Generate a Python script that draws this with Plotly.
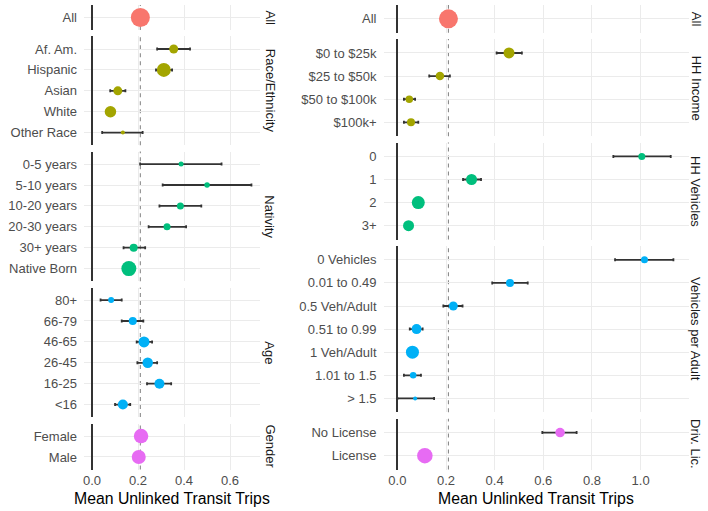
import plotly.graph_objects as go

W, H = 708, 511

# ---------------- data ----------------
overall_mean = 0.21

# Left column
all_labels = ["All"]
all_mean = [0.21]
all_lo = [0.203]
all_hi = [0.217]
all_size = [19]

race_labels = ["Af. Am.", "Hispanic", "Asian", "White", "Other Race"]
race_mean = [0.355, 0.312, 0.112, 0.080, 0.134]
race_lo = [0.283, 0.278, 0.079, 0.068, 0.044]
race_hi = [0.426, 0.348, 0.145, 0.092, 0.220]
race_size = [9, 14, 9, 11.5, 4]

nat_labels = ["0-5 years", "5-10 years", "10-20 years", "20-30 years", "30+ years", "Native Born"]
nat_mean = [0.387, 0.500, 0.384, 0.326, 0.181, 0.160]
nat_lo = [0.209, 0.307, 0.293, 0.246, 0.137, 0.150]
nat_hi = [0.563, 0.693, 0.475, 0.409, 0.231, 0.170]
nat_size = [5, 5.5, 7, 7, 8, 15]

age_labels = ["80+", "66-79", "46-65", "26-45", "16-25", "<16"]
age_mean = [0.083, 0.177, 0.226, 0.242, 0.293, 0.134]
age_lo = [0.037, 0.129, 0.194, 0.197, 0.239, 0.100]
age_hi = [0.129, 0.223, 0.261, 0.283, 0.344, 0.166]
age_size = [6, 8, 11, 10.5, 10, 10]

gender_labels = ["Female", "Male"]
gender_mean = [0.213, 0.203]
gender_lo = [0.205, 0.195]
gender_hi = [0.221, 0.211]
gender_size = [14.5, 14]

# Right column
all2_labels = ["All"]
all2_mean = [0.21]
all2_lo = [0.203]
all2_hi = [0.217]
all2_size = [19]

inc_labels = ["$0 to $25k", "$25 to $50k", "$50 to $100k", "$100k+"]
inc_mean = [0.459, 0.175, 0.049, 0.056]
inc_lo = [0.408, 0.131, 0.027, 0.027]
inc_hi = [0.512, 0.216, 0.073, 0.086]
inc_size = [11, 8.5, 7.5, 8]

veh_labels = ["0", "1", "2", "3+"]
veh_mean = [1.005, 0.305, 0.086, 0.046]
veh_lo = [0.888, 0.270, 0.078, 0.039]
veh_hi = [1.124, 0.344, 0.094, 0.053]
veh_size = [7, 11, 13, 11]

vpa_labels = ["0 Vehicles", "0.01 to 0.49", "0.5 Veh/Adult", "0.51 to 0.99",
              "1 Veh/Adult", "1.01 to 1.5", "> 1.5"]
vpa_mean = [1.016, 0.463, 0.230, 0.079, 0.062, 0.065, 0.073]
vpa_lo = [0.895, 0.390, 0.189, 0.051, 0.055, 0.027, 0.000]
vpa_hi = [1.135, 0.536, 0.268, 0.104, 0.069, 0.097, 0.151]
vpa_size = [7, 8, 9, 10, 13, 6.5, 4]

lic_labels = ["No License", "License"]
lic_mean = [0.669, 0.113]
lic_lo = [0.596, 0.105]
lic_hi = [0.737, 0.121]
lic_size = [9.5, 15.5]

left_ticks = [0, 0.2, 0.4, 0.6]
left_ticktext = ["0.0", "0.2", "0.4", "0.6"]
right_ticks = [0, 0.2, 0.4, 0.6, 0.8, 1.0]
right_ticktext = ["0.0", "0.2", "0.4", "0.6", "0.8", "1.0"]

x_title = "Mean Unlinked Transit Trips"

C1, C2, C3, C4, C5 = "#F8766D", "#A3A500", "#00BF7D", "#00B0F6", "#E76BF3"

left_facets = [
    ("All", all_labels, all_mean, all_lo, all_hi, all_size, C1),
    ("Race/Ethnicity", race_labels, race_mean, race_lo, race_hi, race_size, C2),
    ("Nativity", nat_labels, nat_mean, nat_lo, nat_hi, nat_size, C3),
    ("Age", age_labels, age_mean, age_lo, age_hi, age_size, C4),
    ("Gender", gender_labels, gender_mean, gender_lo, gender_hi, gender_size, C5),
]
right_facets = [
    ("All", all2_labels, all2_mean, all2_lo, all2_hi, all2_size, C1),
    ("HH Income", inc_labels, inc_mean, inc_lo, inc_hi, inc_size, C2),
    ("HH Vehicles", veh_labels, veh_mean, veh_lo, veh_hi, veh_size, C3),
    ("Vehicles per Adult", vpa_labels, vpa_mean, vpa_lo, vpa_hi, vpa_size, C4),
    ("Driv. Lic.", lic_labels, lic_mean, lic_lo, lic_hi, lic_size, C5),
]

# ---------------- layout geometry (pixels) ----------------
TOP, BOTTOM, GAP = 5.0, 469.5, 6.4
FONT = "Arial, Liberation Sans, Helvetica, sans-serif"
GRID = "#EBEBEB"
TICKC = "#4D4D4D"

columns = [
    dict(facets=left_facets, x0=84.0, x1=259.5, rng=[-0.035, 0.728],
         ticks=left_ticks, ticktext=left_ticktext, strip_x=270.0),
    dict(facets=right_facets, x0=383.5, x1=688.5, rng=[-0.057, 1.197],
         ticks=right_ticks, ticktext=right_ticktext, strip_x=696.0),
]

fig = go.Figure()
layout = dict(
    width=W, height=H, margin=dict(l=0, r=0, t=0, b=0, pad=0),
    paper_bgcolor="white", plot_bgcolor="white",
    showlegend=False, template="none",
    font=dict(family=FONT, size=13, color=TICKC),
)
shapes, annotations = [], []

k = 0
for col in columns:
    facets = col["facets"]
    units = sum(len(f[1]) + 0.2 for f in facets)
    u = (BOTTOM - TOP - GAP * (len(facets) - 1)) / units
    y = TOP
    xd = [col["x0"] / W, col["x1"] / W]
    for fi, (name, labels, mean, lo, hi, size, color) in enumerate(facets):
        k += 1
        n = len(labels)
        h = (n + 0.2) * u
        ytop, ybot = y, y + h
        y = ybot + GAP
        yd = [1 - ybot / H, 1 - ytop / H]
        xs = "" if k == 1 else str(k)
        last = fi == len(facets) - 1
        layout["xaxis" + xs] = dict(
            domain=xd, range=col["rng"], anchor="y" + xs,
            showgrid=True, gridcolor=GRID, gridwidth=1,
            zeroline=True, zerolinecolor="#333333", zerolinewidth=1.8,
            showline=False, ticks="", tickvals=col["ticks"], ticktext=col["ticktext"],
            showticklabels=last, tickfont=dict(size=13, color=TICKC),
            ticklabelstandoff=1,
        )
        layout["yaxis" + xs] = dict(
            domain=yd, range=[n - 1 + 0.6, -0.6], anchor="x" + xs,
            showgrid=True, gridcolor=GRID, gridwidth=1, zeroline=False,
            showline=False, ticks="", tickvals=list(range(n)), ticktext=labels,
            tickfont=dict(size=13, color=TICKC), ticklabelstandoff=6,
        )
        # overall-mean reference line
        shapes.append(dict(type="line", xref="x" + xs, yref="y" + xs + " domain",
                           x0=overall_mean, x1=overall_mean, y0=0, y1=1, layer="below",
                           line=dict(color="#8C8C8C", width=1.1, dash="4px,4px")))
        fig.add_trace(go.Scatter(
            x=mean, y=list(range(n)), mode="markers",
            xaxis="x" + xs, yaxis="y" + xs,
            marker=dict(size=size, color=color, line=dict(width=0), opacity=1),
            error_x=dict(type="data", symmetric=False,
                         array=[b - m for m, b in zip(mean, hi)],
                         arrayminus=[m - a for m, a in zip(mean, lo)],
                         color="#333333", thickness=1.8, width=1.5),
            hoverinfo="skip",
        ))
        annotations.append(dict(
            text=name, xref="paper", yref="paper",
            x=col["strip_x"] / W, y=1 - (ytop + ybot) / 2 / H,
            xanchor="center", yanchor="middle", textangle=90, showarrow=False,
            font=dict(size=13, color="#1A1A1A", family=FONT),
        ))
    annotations.append(dict(
        text=x_title, xref="paper", yref="paper",
        x=(col["x0"] + col["x1"]) / 2 / W, y=1 - 498 / H,
        xanchor="center", yanchor="middle", showarrow=False,
        font=dict(size=15.8, color="#000000", family=FONT),
    ))

layout["shapes"] = shapes
layout["annotations"] = annotations
fig.update_layout(**layout)
fig.write_html("out.html", config={"displayModeBar": False},
               post_script="document.body.style.margin='0';document.body.style.padding='0';")
